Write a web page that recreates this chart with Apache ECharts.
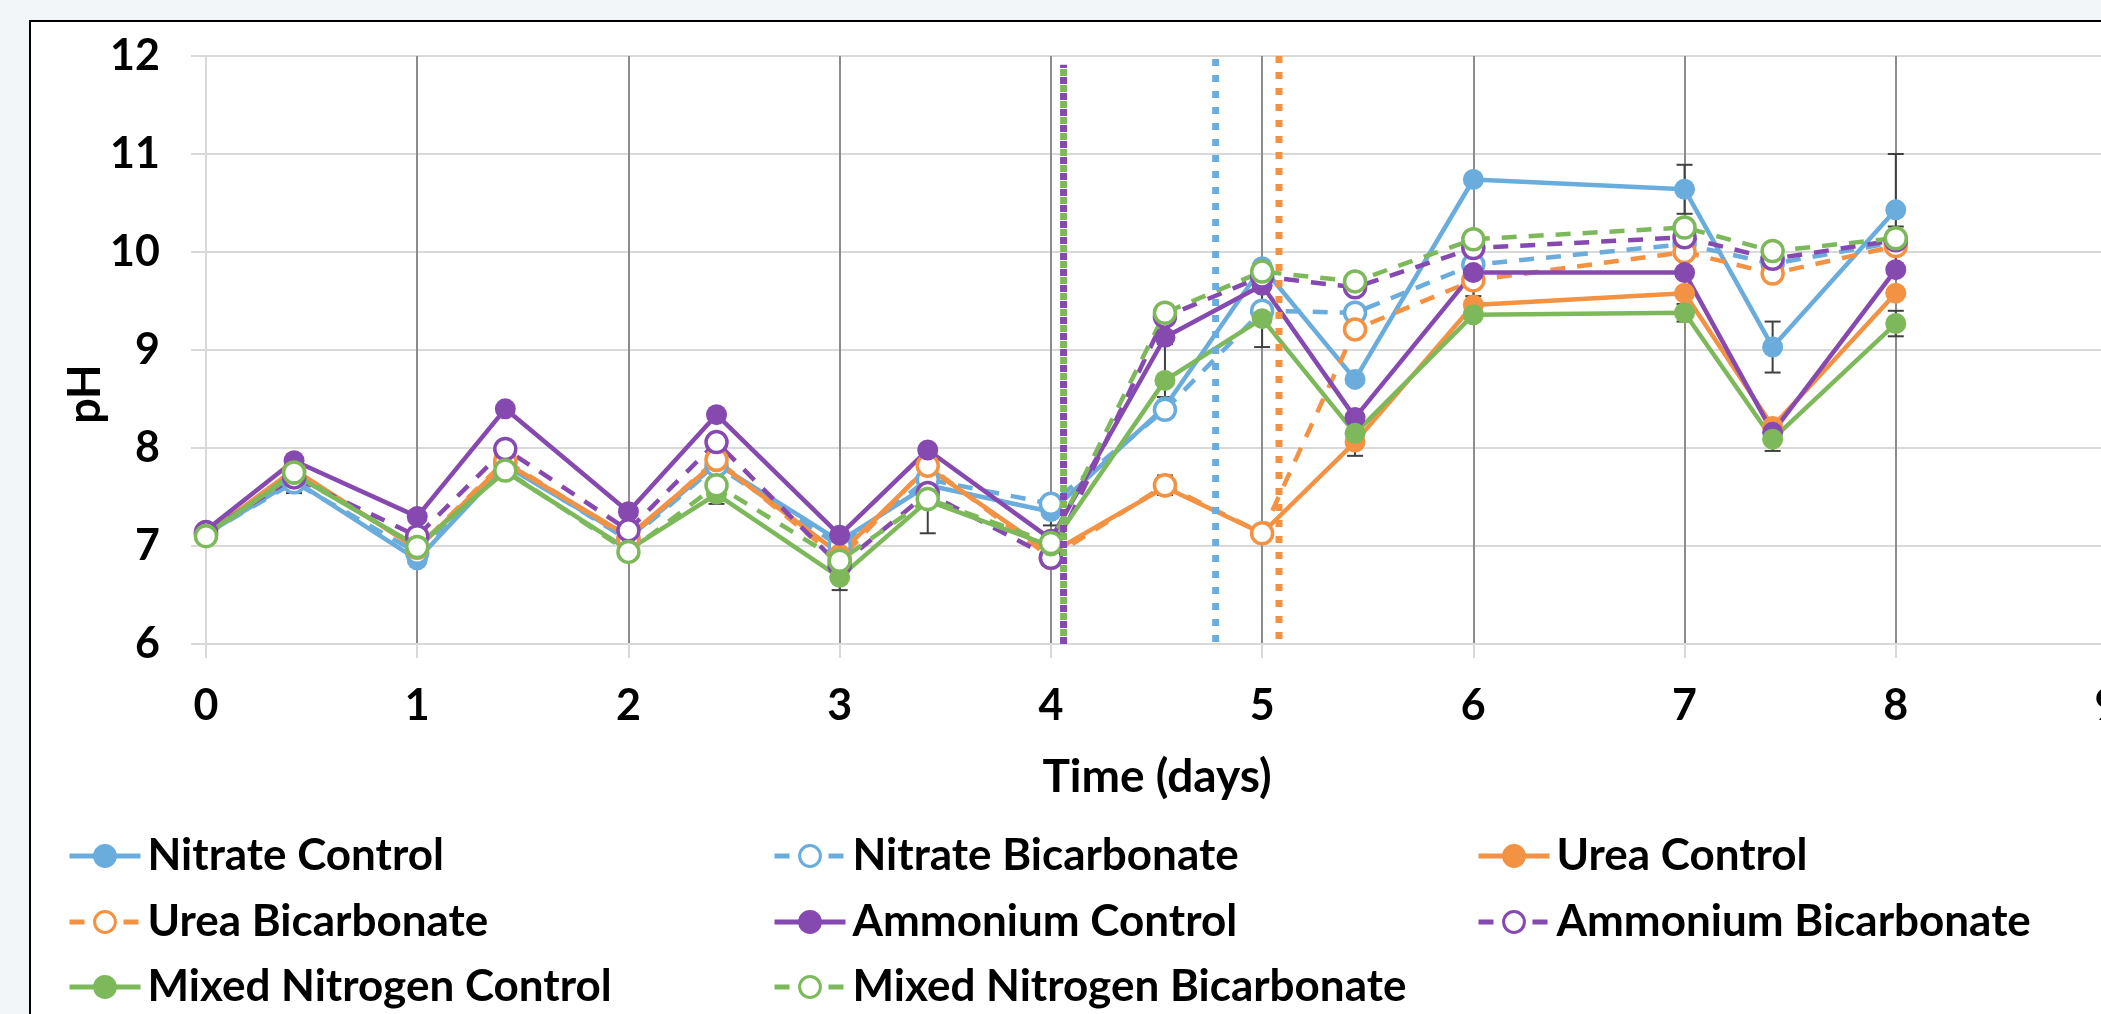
<!DOCTYPE html>
<html>
<head>
<meta charset="utf-8">
<script src="https://cdn.jsdelivr.net/npm/echarts@6/dist/echarts.min.js"></script>
<style>
html,body{margin:0;padding:0;overflow:hidden;background:#f3f6f9;width:2101px;height:1014px;}
#frame{position:absolute;left:29px;top:20px;width:2300px;height:1200px;border:2px solid #000;background:#fff;}
#c{position:absolute;left:0;top:0;width:2200px;height:1014px;}
</style>
</head>
<body>
<div id="frame"></div>
<div id="c"></div>
<script>
// ---- data ----
const times = [0, 0.417, 1, 1.417, 2, 2.417, 3, 3.417, 4, 4.54, 5, 5.44, 6, 7, 7.417, 8];

const nitrateControl      = [7.12, 7.67, 6.86, 7.82, 7.08, 7.84, 7.05, 7.62, 7.35, 8.42, 9.85, 8.70, 10.74, 10.64, 9.03, 10.43];
const nitrateBicarbonate  = [7.12, 7.65, 6.93, 7.84, 7.06, 7.82, 7.00, 7.68, 7.43, 8.39, 9.40, 9.38, 9.87, 10.08, 9.88, 10.10];
const ureaControl         = [7.12, 7.78, 6.97, 7.85, 7.10, 7.86, 6.92, 7.80, 6.93, 7.60, 7.13, 8.06, 9.46, 9.58, 8.22, 9.58];
const ureaBicarbonate     = [7.12, 7.76, 6.98, 7.87, 7.08, 7.88, 6.86, 7.82, 6.88, 7.62, 7.13, 9.21, 9.71, 10.00, 9.78, 10.06];
const ammoniumControl     = [7.16, 7.87, 7.30, 8.40, 7.35, 8.34, 7.11, 7.98, 7.07, 9.13, 9.66, 8.31, 9.79, 9.79, 8.16, 9.82];
const ammoniumBicarbonate = [7.14, 7.70, 7.10, 7.99, 7.16, 8.06, 6.80, 7.54, 6.88, 9.34, 9.75, 9.64, 10.04, 10.15, 9.93, 10.12];
const mixedControl        = [7.12, 7.73, 7.00, 7.76, 6.96, 7.53, 6.68, 7.46, 7.00, 8.69, 9.32, 8.15, 9.36, 9.38, 8.09, 9.27];
const mixedBicarbonate    = [7.10, 7.75, 6.99, 7.77, 6.94, 7.62, 6.85, 7.48, 7.03, 9.38, 9.80, 9.70, 10.13, 10.25, 10.01, 10.14];

// error bars: x, low, high
const errX    = [0.417, 2.417, 3,    3.417, 4,    4.54, 4.54, 5,    5.44, 6,     7,     7,     7,    7.417, 7.417, 8,    8,     8];
const errLow  = [7.54,  7.43,  6.55, 7.13,  7.21, 8.52, 7.52, 9.03, 7.92, 9.55,  10.39, 10.18, 9.29, 8.77,  7.97,  9.86, 10.00, 9.14];
const errHigh = [7.76,  7.61,  6.81, 7.79,  7.49, 9.06, 7.72, 9.61, 8.20, 10.21, 10.89, 10.32, 9.47, 9.29,  8.21,  11.0, 10.26, 9.40];

// vertical dotted marker lines: x, bottom, top
const markNitrateX = 4.78, markNitrateY = [6.02, 11.98];
const markUreaX    = 5.08, markUreaY    = [6.05, 12.0];
const markAmmMixX  = 4.06, markAmmMixY  = [6.0, 11.91];

const xTicks = [0, 1, 2, 3, 4, 5, 6, 7, 8, 9];
const yTicks = [6, 7, 8, 9, 10, 11, 12];

// ---- styling ----
const BLUE = '#6aaddd', ORANGE = '#f39242', PURPLE = '#8649b0', GREEN = '#7db95a';
const FONT = 'Lato';

function lineSeries(name, vals, color, bicarb) {
  return {
    name: name, type: 'line', color: color,
    data: times.map((t, i) => [t, vals[i]]),
    symbol: 'circle', symbolSize: 21,
    lineStyle: { color: color, width: 4.5, type: bicarb ? [15, 12] : 'solid' },
    itemStyle: bicarb ? { color: '#fff', borderColor: color, borderWidth: 3.5 }
                      : { color: color, borderColor: color, borderWidth: 0 },
    emphasis: { disabled: true },
    animation: false
  };
}
function vline(x, ys, color, dash, offset) {
  return {
    type: 'line', data: [[x, ys[0]], [x, ys[1]]], symbol: 'none', silent: true,
    lineStyle: { color: color, width: 7, type: dash, dashOffset: offset || 0, cap: 'butt' },
    animation: false, z: 5
  };
}

const names = ['Nitrate Control', 'Nitrate Bicarbonate', 'Urea Control', 'Urea Bicarbonate',
               'Ammonium Control', 'Ammonium Bicarbonate', 'Mixed Nitrogen Control', 'Mixed Nitrogen Bicarbonate'];
const legendPos = [[67, 0], [772, 0], [1476, 0], [67, 1], [772, 1], [1476, 1], [67, 2], [772, 2]];
const rowTop = [834, 900, 965];

const legends = names.map((n, i) => ({
  data: [n], left: legendPos[i][0], top: rowTop[legendPos[i][1]], padding: 0,
  itemWidth: 71, itemHeight: 26, selectedMode: false,
  lineStyle: { width: 5 },
  itemStyle: { borderWidth: 3 },
  textStyle: { fontFamily: FONT, fontWeight: 'bold', fontSize: 44, color: '#000', padding: [0, 0, 0, 2] }
}));

const chart = echarts.init(document.getElementById('c'), null, { renderer: 'canvas' });
chart.setOption({
  backgroundColor: 'transparent',
  animation: false,
  grid: { left: 206, top: 56, width: 1901, height: 588, containLabel: false },
  legend: legends,
  xAxis: {
    type: 'value', min: xTicks[0], max: xTicks[xTicks.length - 1], interval: 1,
    axisLine: { show: true, onZero: false, lineStyle: { color: '#d9d9d9', width: 2 } },
    axisTick: { show: true, length: 14, lineStyle: { color: '#d9d9d9', width: 2 } },
    splitLine: { show: true, showMinLine: false, lineStyle: { color: '#8c8c8c', width: 2 } },
    axisLabel: { fontFamily: FONT, fontWeight: 'bold', fontSize: 43, color: '#000', margin: 41 }
  },
  yAxis: {
    type: 'value', min: yTicks[0], max: yTicks[yTicks.length - 1], interval: 1,
    axisLine: { show: true, onZero: false, lineStyle: { color: '#d9d9d9', width: 2 } },
    axisTick: { show: true, length: 15, lineStyle: { color: '#d9d9d9', width: 2 } },
    splitLine: { show: true, lineStyle: { color: '#d9d9d9', width: 2 } },
    axisLabel: { fontFamily: FONT, fontWeight: 'bold', fontSize: 43, color: '#000', margin: 46 }
  },
  graphic: [
    { type: 'text', x: 85, y: 394, rotation: Math.PI / 2,
      style: { text: 'pH', font: 'bold 45px Lato', fill: '#000', textAlign: 'center', textVerticalAlign: 'middle' } },
    { type: 'text', x: 1157, y: 777,
      style: { text: 'Time (days)', font: 'bold 46px Lato', fill: '#000', textAlign: 'center', textVerticalAlign: 'middle' } }
  ],
  series: [
    {
      type: 'custom', silent: true, animation: false,
      data: errX.map((x, i) => [x, errLow[i], errHigh[i]]),
      encode: { x: 0, y: [1, 2] },
      renderItem: function (params, api) {
        const x = api.value(0);
        const a = api.coord([x, api.value(1)]);
        const b = api.coord([x, api.value(2)]);
        const st = { stroke: '#404040', lineWidth: 2 };
        return { type: 'group', children: [
          { type: 'line', shape: { x1: a[0], y1: a[1], x2: b[0], y2: b[1] }, style: st },
          { type: 'line', shape: { x1: a[0] - 8, y1: a[1], x2: a[0] + 8, y2: a[1] }, style: st },
          { type: 'line', shape: { x1: b[0] - 8, y1: b[1], x2: b[0] + 8, y2: b[1] }, style: st }
        ] };
      }
    },
    lineSeries(names[0], nitrateControl, BLUE, false),
    lineSeries(names[1], nitrateBicarbonate, BLUE, true),
    lineSeries(names[2], ureaControl, ORANGE, false),
    lineSeries(names[3], ureaBicarbonate, ORANGE, true),
    lineSeries(names[4], ammoniumControl, PURPLE, false),
    lineSeries(names[5], ammoniumBicarbonate, PURPLE, true),
    lineSeries(names[6], mixedControl, GREEN, false),
    lineSeries(names[7], mixedBicarbonate, GREEN, true),
    vline(markAmmMixX, markAmmMixY, PURPLE, [7, 9], 0),
    vline(markAmmMixX, markAmmMixY, GREEN, [7, 9], 8),
    vline(markNitrateX, markNitrateY, BLUE, [7, 9], 0),
    vline(markUreaX, markUreaY, ORANGE, [7, 9], 0)
  ]
});
</script>
</body>
</html>
